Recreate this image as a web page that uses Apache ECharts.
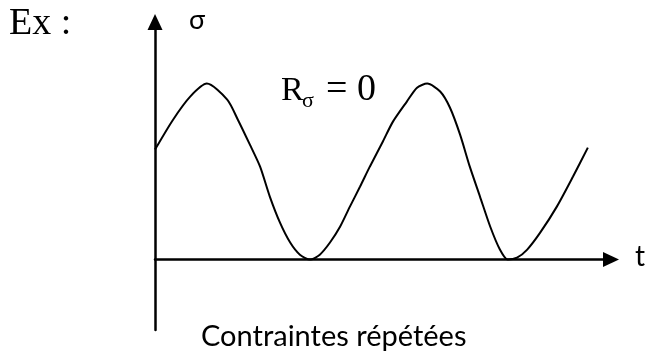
<!DOCTYPE html>
<html>
<head>
<meta charset="utf-8">
<script src="https://cdn.jsdelivr.net/npm/echarts@6/dist/echarts.min.js"></script>
<style>
  html, body { margin: 0; padding: 0; background: #fff; }
  #chart { width: 650px; height: 353px; }
</style>
</head>
<body>
<div id="chart"></div>
<script>
// time (arbitrary units) and stress
const tValues = [0, 3.9, 7.6, 11.2, 15.6, 17.9, 20.5, 22.7, 24.8, 27.0, 29.2, 31.3, 33.5, 35.6, 37.8, 40.0, 42.1, 44.3, 46.4, 49.2, 51.4, 54.4, 56.6, 58.8, 61.6, 63.7, 65.9, 68.0, 70.2, 72.4, 74.5, 76.2, 78.2, 80.4, 83.2, 86.8, 90.3, 93.5];
const sigmaValues = [0.625, 0.795, 0.926, 1.0, 0.909, 0.795, 0.653, 0.528, 0.358, 0.21, 0.097, 0.028, 0, 0.028, 0.097, 0.188, 0.301, 0.415, 0.528, 0.67, 0.784, 0.898, 0.977, 1.0, 0.955, 0.864, 0.71, 0.528, 0.358, 0.188, 0.057, 0, 0.011, 0.057, 0.153, 0.301, 0.472, 0.636];

const chart = echarts.init(document.getElementById('chart'));

const axisCommon = {
    axisTick: {show: false},
    axisLabel: {show: false},
    splitLine: {show: false},
    axisLine: {
        onZero: true,
        symbol: ['none', 'triangle'],
        symbolSize: [15, 16],
        lineStyle: {color: '#000', width: 2.5}
    }
};

chart.setOption({
    backgroundColor: '#fff',
    animation: false,
    grid: {left: 155, right: 39, top: 22, bottom: 23},
    xAxis: Object.assign({type: 'value', min: 0, max: 98.5}, axisCommon),
    yAxis: Object.assign({type: 'value', min: -0.4, max: 1.35}, axisCommon),
    series: [{
        type: 'line',
        data: tValues.map((t, i) => [t, sigmaValues[i]]),
        smooth: 0.25,
        showSymbol: false,
        lineStyle: {color: '#000', width: 2}
    }],
    graphic: [
        {type: 'text', left: 9, top: 5, style: {text: 'Ex :', font: '38px "Liberation Serif"', fill: '#000'}},
        {type: 'text', left: 189, top: 7, style: {text: 'σ', font: '27px Lato', fill: '#000'}},
        {type: 'text', left: 281, top: 74, style: {text: 'R', font: '34px "Liberation Serif"', fill: '#000'}},
        {type: 'text', left: 302, top: 90, style: {text: 'σ', font: '22px "Liberation Serif"', fill: '#000'}},
        {type: 'text', left: 326, top: 71, style: {text: '= 0', font: '38px "Liberation Serif"', fill: '#000'}},
        {type: 'text', left: 635, top: 243, style: {text: 't', font: '28px Lato', fill: '#000'}},
        {type: 'text', left: 201, top: 322, style: {text: 'Contraintes répétées', font: '29px Lato', fill: '#000'}}
    ]
});
</script>
</body>
</html>
